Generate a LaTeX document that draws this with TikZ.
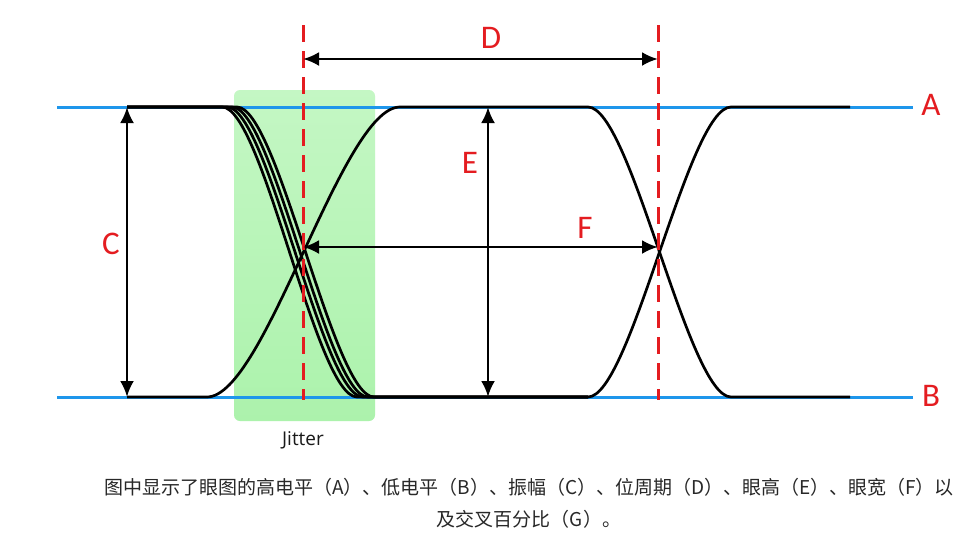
\documentclass[tikz,border=0pt]{standalone}
\usepackage{fontspec}
\newfontfamily\lblfont{Carlito}
\newfontfamily\jitfont{Open Sans}
\newfontfamily\cjk{Noto Sans CJK SC}
\usetikzlibrary{arrows.meta}
\definecolor{lvlblue}{RGB}{30,150,235}
\definecolor{cutred}{RGB}{228,28,32}
\definecolor{captxt}{RGB}{40,40,40}
\definecolor{jitlight}{RGB}{196,247,196}
\definecolor{jitmid}{RGB}{128,233,128}
\definecolor{jitlow}{RGB}{172,242,172}

\begin{document}
\begin{tikzpicture}[x=1pt,y=-1pt,
    sig/.style={line width=2.7pt,black,line join=round},
    lvl/.style={line width=3pt,lvlblue},
    cutline/.style={line width=3pt,cutred,dash pattern=on 17pt off 9pt},
    dim/.style={line width=2.7pt,{Latex[length=16pt,width=14pt]}-{Latex[length=16pt,width=14pt]}},
    lbl/.style={text=cutred,font=\lblfont\fontsize{33}{33}\selectfont,inner sep=0pt},
    captext/.style={text=captxt,font=\cjk\fontsize{19}{19}\selectfont,inner sep=0pt}]
  \useasboundingbox (0,0) rectangle (966,541);
  \fill[white] (0,0) rectangle (966,541);
  % jitter window
  \shade[rounded corners=6pt,top color=jitlight,middle color=jitmid,bottom color=jitlow] (234,90) rectangle (375,421);
  \node[font=\jitfont\fontsize{19}{19}\selectfont,text=black!90,inner sep=0pt] (ljit) at (303,440) {Jitter};
  % levels
  \draw[lvl] (57,107) -- (913,107);
  \draw[lvl] (57,397) -- (913,397);
  \node[lbl] (la) at (931,105) {A};
  \node[lbl] (lb) at (931,396) {B};
  % eye traces
  \draw[sig] (127,397) -- (207,397) .. controls (265,397) and (342,107) .. (400,107) -- (588,107)
    .. controls (631,107) and (688,397) .. (731,397) -- (850,397);
  \draw[sig] (127,107) -- (232,107) .. controls (273,107) and (327,397) .. (368,397) -- (588,397)
    .. controls (631,397) and (688,107) .. (731,107) -- (850,107);
  \foreach \s/\e in {222/357,227/363,237/374}
    \draw[sig] (127,107) -- (\s,107) .. controls (\s+41,107) and (\e-41,397) .. (\e,397) -- (588,397);
  % crossing lines
  \coordinate (cutLtop) at (303,25); \coordinate (cutLbot) at (303,400);
  \coordinate (cutRtop) at (658,25); \coordinate (cutRbot) at (658,400);
  \draw[cutline] (cutLtop) -- (cutLbot);
  \draw[cutline] (cutRtop) -- (cutRbot);
  % dimensions
  \coordinate (perL) at (303,59); \coordinate (perR) at (658,59);
  \coordinate (ampT) at (127,107); \coordinate (ampB) at (127,397);
  \coordinate (eyeT) at (488,107); \coordinate (eyeB) at (488,397);
  \coordinate (wL) at (303,247); \coordinate (wR) at (658,247);
  \draw[dim] (perL) -- (perR);
  \draw[dim] (ampT) -- (ampB);
  \draw[dim] (eyeT) -- (eyeB);
  \draw[dim] (wL) -- (wR);
  \node[lbl] (ld) at (491,38) {D};
  \node[lbl] (lc) at (111,244) {C};
  \node[lbl] (le) at (470,163) {E};
  \node[lbl] (lf) at (585,228) {F};
  % caption
  \node[captext] (cap1) at (529,487) {图中显示了眼图的高电平（A）、低电平（B）、振幅（C）、位周期（D）、眼高（E）、眼宽（F）以};
  \node[captext] (cap2) at (529,519) {及交叉百分比（G）。};
\end{tikzpicture}
\end{document}
